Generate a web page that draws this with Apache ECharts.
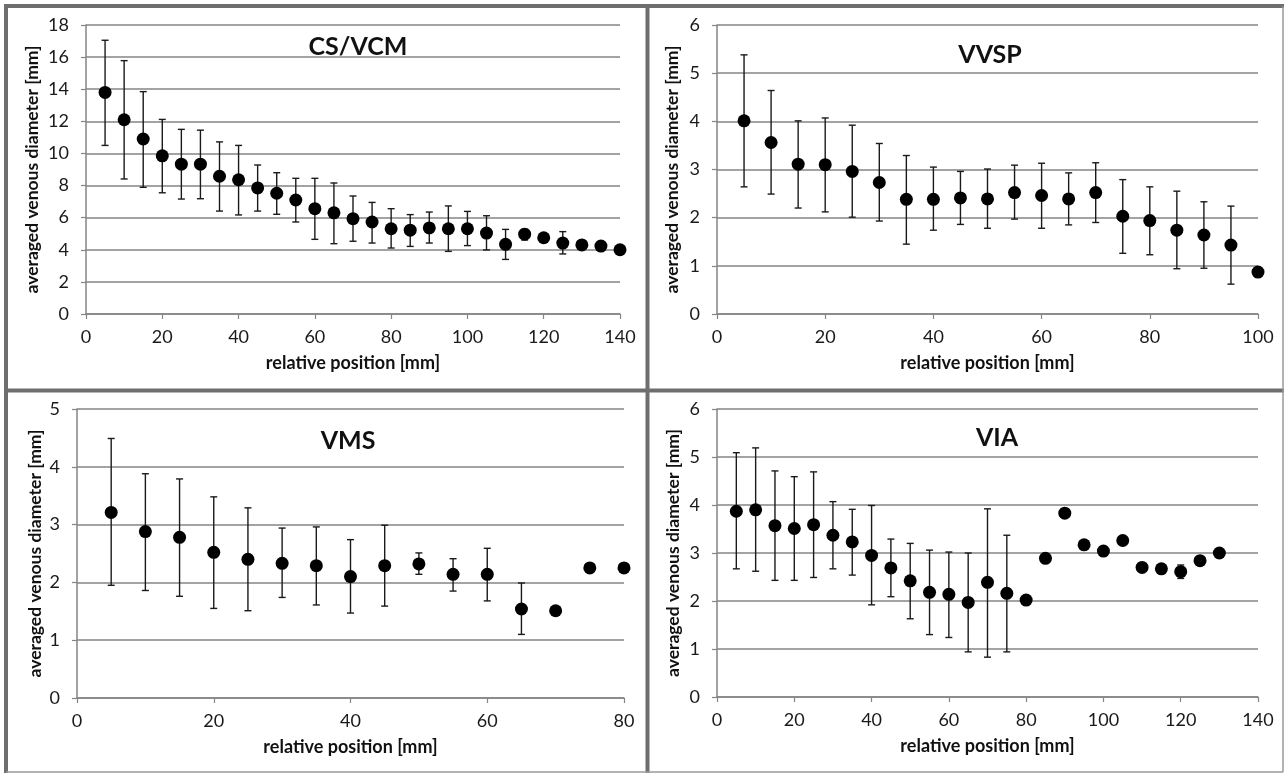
<!DOCTYPE html>
<html>
<head>
<meta charset="utf-8">
<script src="https://cdn.jsdelivr.net/npm/echarts@6/dist/echarts.min.js"></script>
<style>
  html, body { margin: 0; padding: 0; background: #fff; }
  #main { width: 1285px; height: 773px; }
</style>
</head>
<body>
<div id="main"></div>
<script>
// CS/VCM
var pos1 = [5, 10, 15, 20, 25, 30, 35, 40, 45, 50, 55, 60, 65, 70, 75, 80, 85, 90, 95, 100, 105, 110, 115, 120, 125, 130, 135, 140];
var mean1 = [13.8, 12.1, 10.9, 9.85, 9.33, 9.33, 8.58, 8.36, 7.85, 7.52, 7.1, 6.56, 6.3, 5.94, 5.73, 5.31, 5.22, 5.36, 5.31, 5.31, 5.04, 4.34, 4.97, 4.75, 4.42, 4.3, 4.23, 4.0];
var hi1 = [17.05, 15.78, 13.85, 12.12, 11.5, 11.45, 10.72, 10.5, 9.28, 8.8, 8.45, 8.45, 8.16, 7.35, 6.95, 6.56, 6.19, 6.35, 6.73, 6.39, 6.12, 5.27, 5.27, null, 5.13, null, null, null];
var lo1 = [10.5, 8.41, 7.89, 7.55, 7.16, 7.18, 6.41, 6.17, 6.41, 6.21, 5.73, 4.65, 4.38, 4.53, 4.42, 4.11, 4.21, 4.42, 3.9, 4.26, 3.99, 3.4, 4.61, null, 3.74, null, null, null];

// VVSP
var pos2 = [5, 10, 15, 20, 25, 30, 35, 40, 45, 50, 55, 60, 65, 70, 75, 80, 85, 90, 95, 100];
var mean2 = [4.01, 3.56, 3.11, 3.1, 2.96, 2.73, 2.38, 2.38, 2.41, 2.39, 2.52, 2.46, 2.39, 2.52, 2.03, 1.94, 1.74, 1.64, 1.43, 0.87];
var hi2 = [5.38, 4.64, 4.01, 4.07, 3.92, 3.54, 3.29, 3.05, 2.96, 3.01, 3.09, 3.13, 2.93, 3.14, 2.79, 2.64, 2.55, 2.33, 2.24, null];
var lo2 = [2.64, 2.49, 2.2, 2.12, 2.01, 1.93, 1.45, 1.74, 1.86, 1.78, 1.97, 1.78, 1.85, 1.9, 1.26, 1.23, 0.94, 0.95, 0.62, null];

// VMS
var pos3 = [5, 10, 15, 20, 25, 30, 35, 40, 45, 50, 55, 60, 65, 70, 75, 80];
var mean3 = [3.21, 2.88, 2.78, 2.52, 2.4, 2.33, 2.29, 2.1, 2.29, 2.32, 2.14, 2.14, 1.54, 1.51, 2.25, 2.25];
var hi3 = [4.49, 3.88, 3.79, 3.48, 3.29, 2.94, 2.96, 2.74, 2.99, 2.51, 2.41, 2.59, 1.99, null, null, null];
var lo3 = [1.95, 1.86, 1.76, 1.55, 1.51, 1.74, 1.61, 1.47, 1.59, 2.14, 1.85, 1.68, 1.1, null, null, null];

// VIA
var pos4 = [5, 10, 15, 20, 25, 30, 35, 40, 45, 50, 55, 60, 65, 70, 75, 80, 85, 90, 95, 100, 105, 110, 115, 120, 125, 130];
var mean4 = [3.87, 3.9, 3.57, 3.51, 3.59, 3.37, 3.23, 2.95, 2.69, 2.42, 2.18, 2.14, 1.97, 2.39, 2.16, 2.02, 2.89, 3.83, 3.17, 3.04, 3.26, 2.7, 2.67, 2.61, 2.84, 3.0];
var hi4 = [5.09, 5.19, 4.71, 4.59, 4.69, 4.07, 3.91, 3.99, 3.29, 3.2, 3.06, 3.02, 3.0, 3.92, 3.37, null, null, null, null, null, null, null, null, 2.75, null, null];
var lo4 = [2.67, 2.62, 2.43, 2.43, 2.49, 2.67, 2.54, 1.92, 2.09, 1.63, 1.3, 1.24, 0.94, 0.83, 0.94, null, null, null, null, null, null, null, null, 2.47, null, null];

var titles = ['CS/VCM', 'VVSP', 'VMS', 'VIA'];
var xMax = [140, 100, 80, 140];
var yMax = [18, 6, 5, 6];
var yStep = [2, 1, 1, 1];
var xName = 'relative position [mm]';
var yName = 'averaged venous diameter [mm]';

var FONT = 'Lato';
var GRAY = '#858585';

var panels = [
  { pos: pos1, mean: mean1, hi: hi1, lo: lo1 },
  { pos: pos2, mean: mean2, hi: hi2, lo: lo2 },
  { pos: pos3, mean: mean3, hi: hi3, lo: lo3 },
  { pos: pos4, mean: mean4, hi: hi4, lo: lo4 }
];

// plot boxes
var boxes = [
  { left: 86, top: 25, width: 534, height: 289, yGap: 45, tx: 353, ty: 29 },
  { left: 717, top: 25, width: 541, height: 289, yGap: 36, tx: 985, ty: 37 },
  { left: 77, top: 409, width: 547, height: 289, yGap: 33, tx: 343, ty: 423 },
  { left: 717, top: 409, width: 541, height: 288, yGap: 35, tx: 992, ty: 420 }
];

function renderErr(params, api) {
  var x = api.value(0);
  var lo = api.coord([x, api.value(1)]);
  var hi = api.coord([x, api.value(2)]);
  var w = 3.5;
  var st = { stroke: '#1a1a1a', lineWidth: 1.4 };
  return {
    type: 'group',
    children: [
      { type: 'line', shape: { x1: lo[0], y1: lo[1], x2: hi[0], y2: hi[1] }, style: st },
      { type: 'line', shape: { x1: lo[0] - w, y1: lo[1], x2: lo[0] + w, y2: lo[1] }, style: st },
      { type: 'line', shape: { x1: hi[0] - w, y1: hi[1], x2: hi[0] + w, y2: hi[1] }, style: st }
    ]
  };
}

var grid = [], xAxis = [], yAxis = [], series = [], title = [];
panels.forEach(function (p, i) {
  var b = boxes[i];
  grid.push({ left: b.left, top: b.top, width: b.width, height: b.height });
  title.push({
    text: titles[i], left: b.tx, top: b.ty, textAlign: 'center',
    textStyle: { fontFamily: FONT, fontWeight: 'bold', fontSize: 25, color: '#111' }
  });
  xAxis.push({
    gridIndex: i, type: 'value', min: 0, max: xMax[i], interval: 20,
    name: xName, nameLocation: 'middle', nameGap: 40,
    nameTextStyle: { fontFamily: FONT, fontWeight: 'bold', fontSize: 18, color: '#111' },
    axisLine: { lineStyle: { color: GRAY, width: 1.5 } },
    axisTick: { show: true, inside: false, length: 5, lineStyle: { color: GRAY, width: 1.2 } },
    axisLabel: { fontFamily: FONT, fontSize: 18, color: '#1a1a1a', margin: 14 },
    splitLine: { show: false }
  });
  yAxis.push({
    gridIndex: i, type: 'value', min: 0, max: yMax[i], interval: yStep[i],
    name: yName, nameLocation: 'middle', nameGap: b.yGap, nameRotate: 90,
    nameTextStyle: { fontFamily: FONT, fontWeight: 'bold', fontSize: 17.5, color: '#111' },
    axisLine: { show: true, lineStyle: { color: GRAY, width: 1.5 } },
    axisTick: { show: true, inside: false, length: 5, lineStyle: { color: GRAY, width: 1.2 } },
    axisLabel: { fontFamily: FONT, fontSize: 18, color: '#1a1a1a', margin: 17 },
    splitLine: { show: true, lineStyle: { color: GRAY, width: 1.5 } }
  });

  var errData = [];
  var pts = [];
  p.pos.forEach(function (x, k) {
    pts.push([x, p.mean[k]]);
    if (p.hi[k] != null && p.lo[k] != null) errData.push([x, p.lo[k], p.hi[k]]);
  });
  series.push({
    type: 'custom', xAxisIndex: i, yAxisIndex: i,
    renderItem: renderErr, encode: { x: 0, y: [1, 2] },
    data: errData, z: 2, silent: true
  });
  series.push({
    type: 'scatter', xAxisIndex: i, yAxisIndex: i,
    symbol: 'circle', symbolSize: 13,
    itemStyle: { color: '#000', opacity: 1 },
    data: pts, z: 3, silent: true
  });
});

// panel frame
var FRAME = '#6e6e6e';
var frame = [
  { type: 'line', shape: { x1: 4, y1: 6, x2: 1284, y2: 6 }, style: { stroke: FRAME, lineWidth: 4 } },
  { type: 'line', shape: { x1: 6, y1: 4, x2: 6, y2: 773 }, style: { stroke: FRAME, lineWidth: 4 } },
  { type: 'line', shape: { x1: 647.5, y1: 4, x2: 647.5, y2: 773 }, style: { stroke: FRAME, lineWidth: 4 } },
  { type: 'line', shape: { x1: 4, y1: 390.5, x2: 1284, y2: 390.5 }, style: { stroke: FRAME, lineWidth: 4 } },
  { type: 'line', shape: { x1: 1283, y1: 6, x2: 1283, y2: 772 }, style: { stroke: '#9a9a9a', lineWidth: 1.5 } },
  { type: 'line', shape: { x1: 6, y1: 772, x2: 1283, y2: 772 }, style: { stroke: '#9a9a9a', lineWidth: 1.5 } }
];

var chart = echarts.init(document.getElementById('main'));
chart.setOption({
  backgroundColor: '#fff',
  animation: false,
  title: title,
  grid: grid,
  xAxis: xAxis,
  yAxis: yAxis,
  series: series,
  graphic: frame
});
</script>
</body>
</html>
